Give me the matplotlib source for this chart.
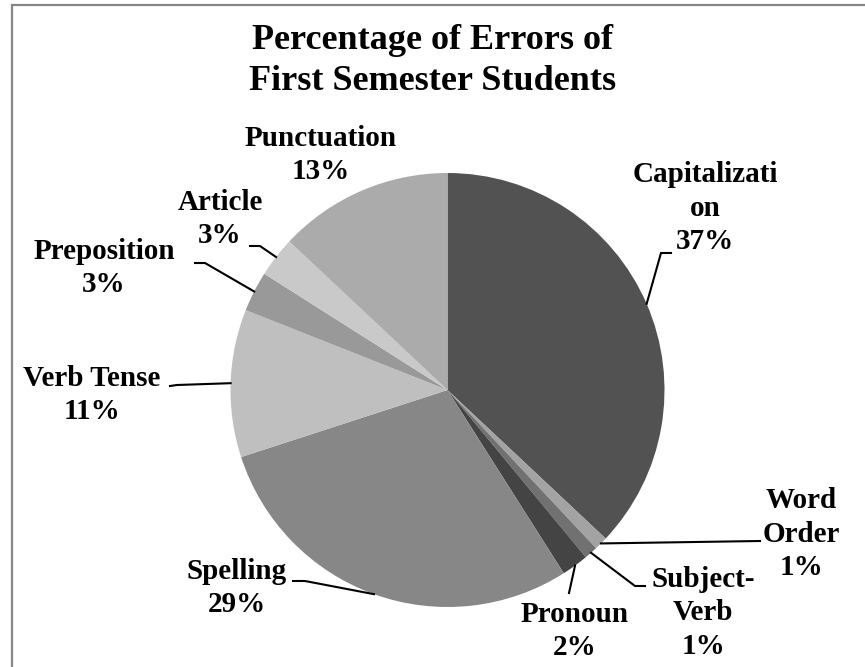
import numpy as np
import matplotlib
matplotlib.use("Agg")
from matplotlib import pyplot as plt
from matplotlib.patches import Rectangle

categories = ["Capitalizati\non", "Word\nOrder", "Subject-\nVerb", "Pronoun",
              "Spelling", "Verb Tense", "Preposition", "Article", "Punctuation"]
percents = [37, 1, 1, 2, 29, 11, 3, 3, 13]
colors = ["#525252", "#a3a3a3", "#717171", "#444444", "#878787",
          "#bfbfbf", "#999999", "#c9c9c9", "#ababab"]

# label centres in pixels (x from left, y from top)
label_px = [(705, 208), (801, 534), (703, 613), (575, 631), (237, 588),
            (92, 395), (104, 268), (220, 219), (321, 155)]
# leader lines: elbow point, then end next to the label (pixels)
leader_px = [[(661, 253), (671, 253)],
             [(760, 541)],
             [(635, 586), (645, 586)],
             [(569, 593)],
             [(305, 581), (293, 581)],
             [(177, 385), (170, 386)],
             [(205, 263), (195, 263)],
             [(260, 246), (250, 246)],
             None]

W, H = 865, 667
cx, cy, R = 447.5, 390, 217.0

plt.rcParams['font.family'] = ['Liberation Serif', 'DejaVu Serif']
fig = plt.figure(figsize=(W / 100, H / 100), dpi=100)
ax = fig.add_axes([0, 0, 1, 1])
wedges, _ = ax.pie(percents, colors=colors, startangle=90, counterclock=False,
                   radius=1, center=(0, 0), wedgeprops=dict(linewidth=0))
ax.set_aspect('equal', adjustable='datalim')
ax.set_xlim(-cx / R, (W - cx) / R)
ax.set_ylim((cy - H) / R, cy / R)
ax.axis('off')


def to_data(px, py):
    return (px - cx) / R, (cy - py) / R


for w, cat, pct, (lx, ly), lead in zip(wedges, categories, percents,
                                       label_px, leader_px):
    tx, ty = to_data(lx, ly)
    ax.text(tx, ty, f"{cat}\n{pct}%", ha='center', va='center', fontsize=21,
            fontweight='bold', linespacing=1.3)
    if lead is None:
        continue
    mid = np.deg2rad((w.theta1 + w.theta2) / 2)
    pts = [(np.cos(mid), np.sin(mid))] + [to_data(*p) for p in lead]
    xs, ys = zip(*pts)
    ax.plot(xs, ys, color='black', lw=1.5, solid_joinstyle='miter')

fig.text(0.5, 1 - 61 / H, "Percentage of Errors of\nFirst Semester Students",
         ha='center', va='center', fontsize=26, fontweight='bold', linespacing=1.33)

# chart border
fig.patches.append(Rectangle((11.5 / W, -0.1), 1.2, 1 - 4.5 / H + 0.1,
                             transform=fig.transFigure, fill=False,
                             edgecolor='#868686', lw=1.6))

fig.savefig("out.png", dpi=100)
